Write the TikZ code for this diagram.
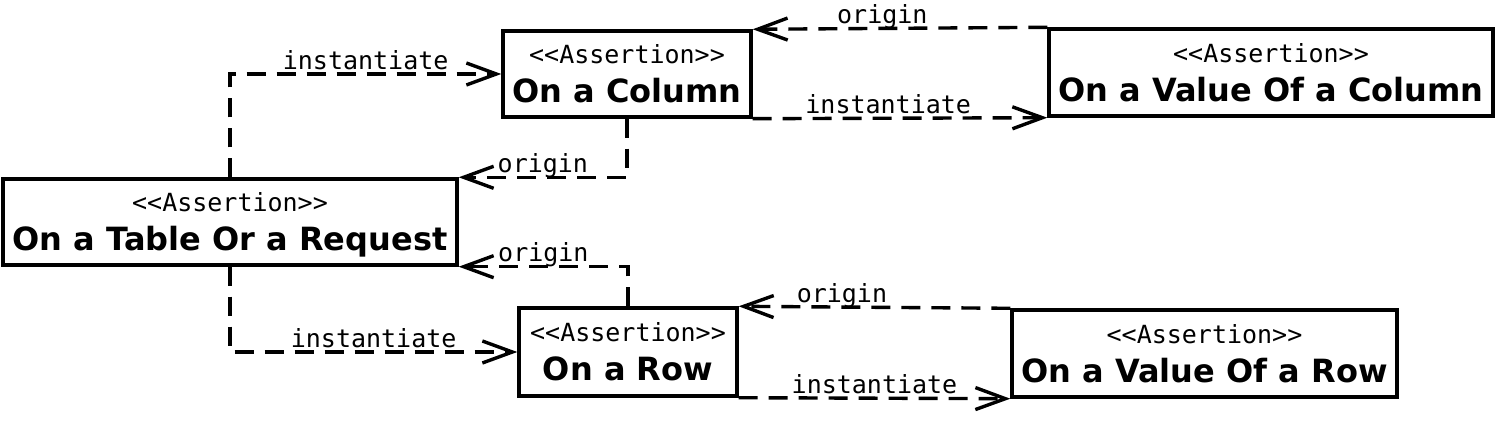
\documentclass[tikz,border=0pt]{standalone}
\usepackage{fontspec}
\setsansfont{DejaVu Sans}
\setmonofont{DejaVu Sans Mono}
\usetikzlibrary{arrows.meta}

\begin{document}
\begin{tikzpicture}[x=0.5pt, y=-0.5pt, line width=1.7pt, >={Straight Barb[length=15pt, width=11pt]},
	assertion/.style={draw, align=center, inner sep=0pt, text depth=0pt, font=\fontsize{16}{19.5}\selectfont\sffamily\bfseries},
	link/.style={->, dash pattern=on 9.5pt off 5.5pt},
	lbl/.style={font=\fontsize{12.5}{15}\selectfont\ttfamily, inner sep=1.5pt, text depth=0pt}]
	\useasboundingbox (0,0) rectangle (1500,432);
	\node[assertion, minimum width=227pt, minimum height=43pt] (table) at (230,222) {{\ttfamily\mdseries\fontsize{12.5}{15}\selectfont <<Assertion>>}\\On a Table Or a Request};
	\node[assertion, minimum width=124pt, minimum height=43pt] (column) at (627,74) {{\ttfamily\mdseries\fontsize{12.5}{15}\selectfont <<Assertion>>}\\On a Column};
	\node[assertion, minimum width=222pt, minimum height=43.5pt] (valcol) at (1271,72.5) {{\ttfamily\mdseries\fontsize{12.5}{15}\selectfont <<Assertion>>}\\On a Value Of a Column};
	\node[assertion, minimum width=109pt, minimum height=44pt] (row) at (628,352) {{\ttfamily\mdseries\fontsize{12.5}{15}\selectfont <<Assertion>>}\\On a Row};
	\node[assertion, minimum width=192.5pt, minimum height=43.5pt] (valrow) at (1204.5,353.5) {{\ttfamily\mdseries\fontsize{12.5}{15}\selectfont <<Assertion>>}\\On a Value Of a Row};
	\draw[link] (table.north) |- node[lbl, pos=0.75, above] {instantiate} (column.west);
	\draw[link] (column.south) |- node[lbl, pos=0.75, above] {origin} (table.north east);
	\draw[link] (column.south east) -- node[lbl, pos=0.46, above] {instantiate} (valcol.south west);
	\draw[link] (valcol.north west) -- node[lbl, pos=0.56, above] {origin} (column.north east);
	\draw[link] (row.north) |- node[lbl, pos=0.75, above] {origin} (table.south east);
	\draw[link] (table.south) |- node[lbl, pos=0.75, above] {instantiate} (row.west);
	\draw[link] (valrow.north west) -- node[lbl, pos=0.62, above] {origin} (row.north east);
	\draw[link] (row.south east) -- node[lbl, pos=0.5, above] {instantiate} (valrow.south west);
\end{tikzpicture}
\end{document}
